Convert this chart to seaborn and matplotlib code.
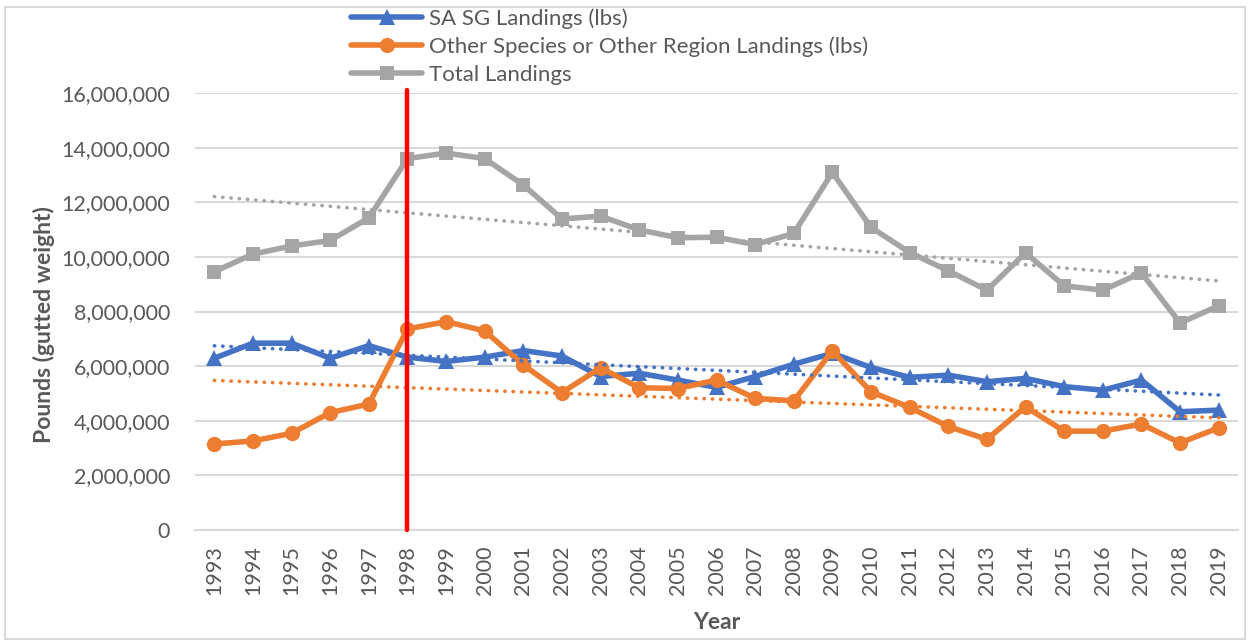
import matplotlib
matplotlib.use("Agg")
import matplotlib.pyplot as plt
import matplotlib.ticker as mticker
from matplotlib.patches import Rectangle
import numpy as np
import pandas as pd
import seaborn as sns

# Data
years = list(range(1993, 2020))
sa_sg = [6.29, 6.84, 6.84, 6.29, 6.75, 6.33, 6.17, 6.33, 6.57, 6.37, 5.62, 5.74, 5.49,
         5.22, 5.62, 6.07, 6.47, 5.95, 5.59, 5.67, 5.43, 5.55, 5.25, 5.12, 5.49, 4.33, 4.39]
other = [3.15, 3.26, 3.54, 4.30, 4.61, 7.36, 7.63, 7.29, 6.04, 5.03, 5.94, 5.21, 5.18,
         5.49, 4.82, 4.73, 6.56, 5.06, 4.49, 3.79, 3.32, 4.51, 3.62, 3.62, 3.88, 3.19, 3.74]
total = [9.46, 10.10, 10.40, 10.60, 11.43, 13.60, 13.80, 13.60, 12.63, 11.39, 11.49, 10.99, 10.70,
         10.72, 10.45, 10.86, 13.09, 11.08, 10.16, 9.49, 8.78, 10.15, 8.94, 8.78, 9.42, 7.58, 8.21]
series_names = ['SA SG Landings (lbs)', 'Other Species or Other Region Landings (lbs)', 'Total Landings']
marker_year = 1998

df = pd.DataFrame({
    'Year': years,
    series_names[0]: np.array(sa_sg) * 1e6,
    series_names[1]: np.array(other) * 1e6,
    series_names[2]: np.array(total) * 1e6,
})

# Style
sns.set_style('white')
plt.rcParams['font.family'] = ['Lato', 'DejaVu Sans']
TXT = '#595959'
GRID = '#d9d9d9'
COLORS = ['#4472C4', '#ED7D31', '#A5A5A5']
MARKERS = ['^', 'o', 's']

fig = plt.figure(figsize=(12.5, 6.41), dpi=100)
ax = fig.add_axes([195 / 1250, 1 - 530 / 641, (1238 - 195) / 1250, (530 - 93) / 641])

# chart area border
fig.patches.append(Rectangle((5 / 1250, 2 / 641), 1240 / 1250, 632 / 641, transform=fig.transFigure,
                             fill=False, edgecolor=GRID, linewidth=1.5))

for name, c, m in zip(series_names, COLORS, MARKERS):
    sns.lineplot(data=df, x='Year', y=name, color=c, marker=m, markersize=11 if m != 's' else 10,
                 markeredgewidth=0, linewidth=3.3, ax=ax, label=name, zorder=3)
    # linear trendline (least squares, like Excel)
    k, b = np.polyfit(df['Year'], df[name], 1)
    ax.plot(df['Year'], k * df['Year'] + b, color=c, linestyle=(0, (0.1, 2.2)),
            dash_capstyle='round', linewidth=2.6, zorder=4)

# red reference line at 1998
ax.axvline(marker_year, ymin=0, ymax=1.007, color='#FF0000', linewidth=3.2, zorder=5, clip_on=False)

ax.set_xlim(years[0] - 0.5, years[-1] + 0.5)
ax.set_ylim(0, 16e6)
ax.set_xticks(years)
ax.set_xticklabels([str(y) for y in years], rotation=90)
ax.yaxis.set_major_locator(mticker.MultipleLocator(2e6))
ax.yaxis.set_major_formatter(mticker.FuncFormatter(lambda v, p: f'{int(v):,}'))
ax.tick_params(axis='both', colors=TXT, labelsize=15.5, length=0)
ax.tick_params(axis='y', pad=18)
ax.tick_params(axis='x', pad=11)
ax.grid(axis='y', color=GRID, linewidth=1.5)
ax.set_axisbelow(True)
for s in ['left', 'right', 'top']:
    ax.spines[s].set_visible(False)
ax.spines['bottom'].set_color(GRID)
ax.spines['bottom'].set_linewidth(1.5)

ax.set_xlabel('Year', fontsize=16.5, fontweight='bold', color=TXT)
ax.set_ylabel('Pounds (gutted weight)', fontsize=16.5, fontweight='bold', color=TXT)
ax.xaxis.set_label_coords(0.5, -0.188)
ax.yaxis.set_label_coords(-0.134, 0.47)

ax.get_legend().remove()
h, l = ax.get_legend_handles_labels()
for hd in h:
    hd.set_linewidth(4)
fig.legend(h, l, loc='upper left', bbox_to_anchor=(351 / 1250, 1 - 8 / 641), frameon=False,
           fontsize=16, labelcolor=TXT, handlelength=3.2, handletextpad=0.3,
           labelspacing=0.36, borderpad=0, borderaxespad=0)

fig.savefig('out.png', dpi=100)
